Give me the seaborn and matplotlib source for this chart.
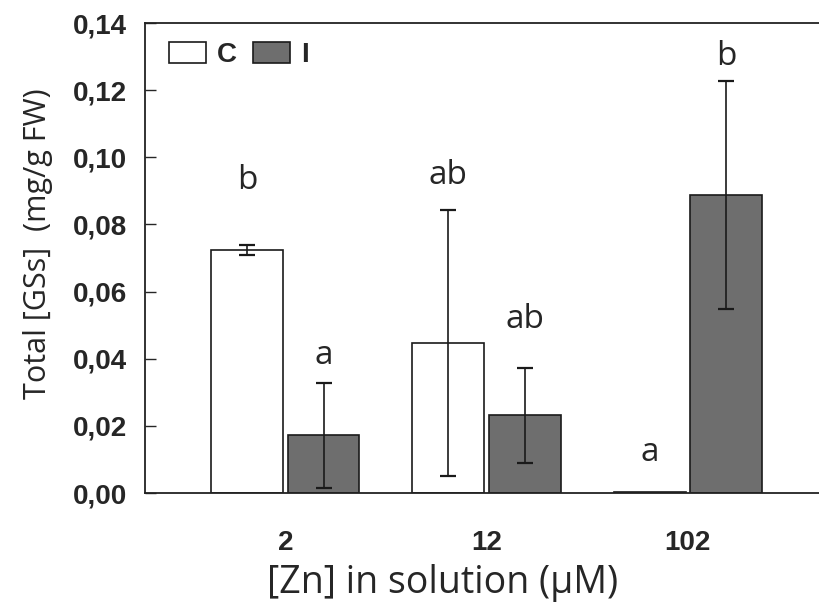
import numpy as np
import pandas as pd
import matplotlib
matplotlib.use("Agg")
import matplotlib.pyplot as plt
import seaborn as sns

# data
zn_levels = ["2", "12", "102"]
treatments = ["C", "I"]
mean_c = [0.0724, 0.0447, 0.0003]
mean_i = [0.0172, 0.0231, 0.0888]
err_c = [0.0015, 0.0397, 0.0]
err_i = [0.0157, 0.0142, 0.0340]
letters_c = ["b", "ab", "a"]
letters_i = ["a", "ab", "b"]
y_ticks = [0.00, 0.02, 0.04, 0.06, 0.08, 0.10, 0.12, 0.14]

df = pd.DataFrame({
    "zn": zn_levels * 2,
    "treatment": ["C"] * 3 + ["I"] * 3,
    "value": mean_c + mean_i,
    "err": err_c + err_i,
    "letter": letters_c + letters_i,
})

sns.set_theme(style="white")
plt.rcParams["font.family"] = ["Liberation Sans", "DejaVu Sans"]
label_font = ["Open Sans", "DejaVu Sans"]

fig = plt.figure(figsize=(8.19, 6.13), dpi=100)
ax = fig.add_axes([145 / 819, 120 / 613, 685 / 819, 470 / 613])

sns.barplot(data=df, x="zn", y="value", hue="treatment", order=zn_levels,
            hue_order=treatments, palette={"C": "white", "I": "#6e6e6e"},
            width=0.76, gap=0.06, errorbar=None, edgecolor="#1a1a1a",
            linewidth=1.2, ax=ax)

# error bars and significance letters, placed at bar centres
letter_y = {("2", "C"): 0.0932, ("12", "C"): 0.0947, ("102", "C"): 0.0122,
            ("2", "I"): 0.0411, ("12", "I"): 0.0518, ("102", "I"): 0.1299}
bars = ax.patches[:6]
for bar, (_, row) in zip(bars, df.iterrows()):
    xc = bar.get_x() + bar.get_width() / 2
    if row["err"] > 0:
        ax.errorbar(xc, row["value"], yerr=row["err"], fmt="none",
                    ecolor="#1a1a1a", elinewidth=1.2, capsize=6, capthick=1.6)
    ax.text(xc, letter_y[(row["zn"], row["treatment"])], row["letter"],
            ha="center", va="center", fontsize=24, family=label_font)

ax.set_xlim(-0.697, 2.706)
ax.set_ylim(0, 0.14)
ax.set_yticks(y_ticks)
ax.set_yticklabels([f"{t:.2f}".replace(".", ",") for t in y_ticks])
ax.tick_params(axis="y", direction="in", length=8, width=1, pad=13,
               labelsize=20, left=True)
ax.tick_params(axis="x", length=0, pad=27, labelsize=20)
for lab in ax.get_xticklabels() + ax.get_yticklabels():
    lab.set_fontweight("bold")
for s in ax.spines.values():
    s.set_color("#222222")
    s.set_linewidth(1.3)

ax.set_xlabel("[Zn] in solution (μM)", fontsize=27, family=label_font)
ax.set_ylabel("Total [GSs]  (mg/g FW)", fontsize=22, family=label_font)
ax.xaxis.set_label_coords(0.434, -0.15)
ax.yaxis.set_label_coords(-0.135, 0.53)

handles, labels = ax.get_legend_handles_labels()
ax.legend(handles, labels, ncol=2, frameon=False, loc="upper left",
          bbox_to_anchor=(-0.002, 1.013), handlelength=1.33, handleheight=0.8,
          handletextpad=0.4, columnspacing=0.6,
          prop={"family": "Liberation Sans", "weight": "bold", "size": 20})

fig.savefig("out.png", dpi=100)
